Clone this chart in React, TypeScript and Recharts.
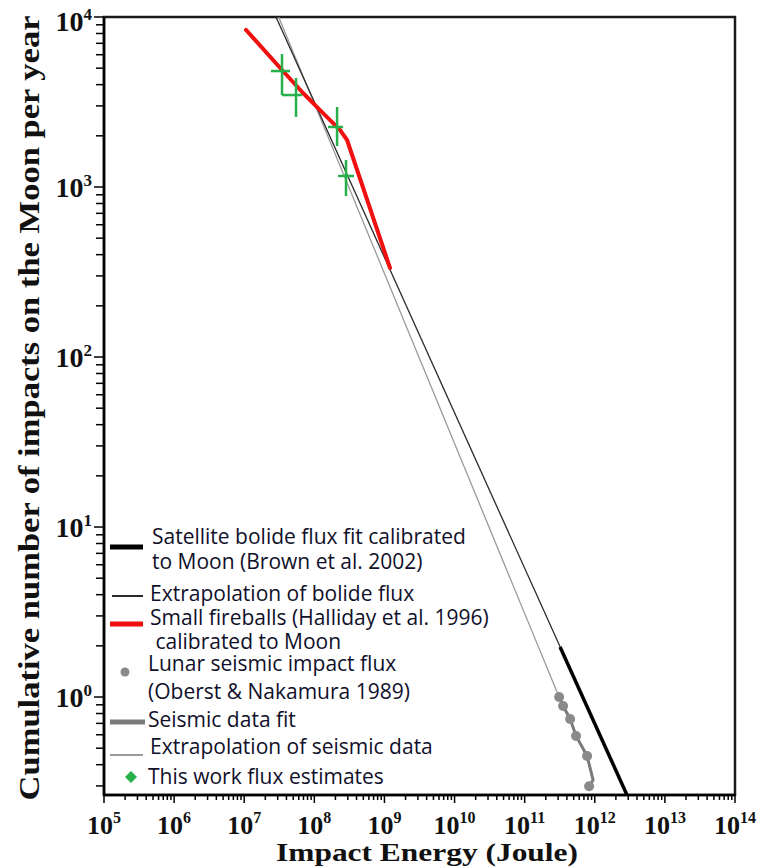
import React from "react";
import {
  ComposedChart,
  Line,
  Scatter,
  XAxis,
  YAxis,
  ErrorBar,
  ReferenceArea,
  Legend,
} from "recharts";

// axis decades (tick labels are 10^n)
const X_DECADES = [5, 6, 7, 8, 9, 10, 11, 12, 13, 14];
const Y_DECADES = [-1, 0, 1, 2, 3, 4];
const X_DOMAIN = [1e5, 1e14];
const Y_DOMAIN = [0.2653, 1e4];

// satellite bolide flux fit (thick black) and its extrapolation (thin black)
const bolideFit = [
  { x: 3.2e11, y: 1.97 },
  { x: 2.88e12, y: 0.2653 },
];
const bolideExtrap = [
  { x: 2.84e7, y: 1e4 },
  { x: 2.88e12, y: 0.2653 },
];

// small fireballs (red)
const fireballs = [
  { x: 1.06e7, y: 8390 },
  { x: 3.46e7, y: 4877 },
  { x: 6.9e7, y: 3573 },
  { x: 1.33e8, y: 2723 },
  { x: 2.33e8, y: 2163 },
  { x: 2.93e8, y: 1890 },
  { x: 1.2e9, y: 334 },
];

// lunar seismic impact flux points, fit line and extrapolation
const seismicPoints = [
  { x: 3.1e11, y: 1.0 },
  { x: 3.53e11, y: 0.885 },
  { x: 4.45e11, y: 0.743 },
  { x: 5.41e11, y: 0.59 },
  { x: 7.77e11, y: 0.45 },
  { x: 8.3e11, y: 0.299 },
];
const seismicFit = [
  { x: 3.1e11, y: 1.0 },
  { x: 3.53e11, y: 0.885 },
  { x: 4.45e11, y: 0.743 },
  { x: 5.41e11, y: 0.59 },
  { x: 7.77e11, y: 0.45 },
  { x: 9.46e11, y: 0.325 },
  { x: 8.3e11, y: 0.299 },
];
const seismicExtrap = [
  { x: 3.1e7, y: 1e4 },
  { x: 3.1e11, y: 1.0 },
];

// this work flux estimates, [lower, upper] errors
const estimates = [
  { x: 3.46e7, y: 4810, ex: [1.05e7, 1.04e7], ey: [1335, 1245] },
  { x: 5.48e7, y: 3475, ex: [2.02e7, 1.19e7], ey: [893, 901] },
  { x: 2.11e8, y: 2254, ex: [0.54e8, 0.46e8], ey: [512, 701] },
  { x: 2.83e8, y: 1161, ex: [0.65e8, 0.85e8], ey: [276, 281] },
];

const LEGEND_TEXT = [
  ["Satellite bolide flux fit calibrated", "to Moon (Brown et al. 2002)"],
  ["Extrapolation of bolide flux"],
  ["Small fireballs (Halliday et al. 1996)", " calibrated to Moon"],
  ["Lunar seismic impact flux", "(Oberst & Nakamura 1989)"],
  ["Seismic data fit"],
  ["Extrapolation of seismic data"],
  ["This work flux estimates"],
];

const C = {
  black: "#000",
  thin: "#2a2a2a",
  red: "#f01010",
  gray: "#8a8a8a",
  grayLine: "#7a7a7a",
  grayThin: "#9a9a9a",
  green: "#25b04a",
  text: "#10102a",
};

const minorTicks = (decades: number[], lo: number, hi: number) =>
  decades
    .flatMap((d) => [1, 2, 3, 4, 5, 6, 7, 8, 9].map((m) => m * Math.pow(10, d)))
    .filter((v) => v >= lo * 0.999 && v <= hi * 1.001);

const X_TICKS = minorTicks(X_DECADES, X_DOMAIN[0], X_DOMAIN[1]);
const Y_TICKS = minorTicks(Y_DECADES, Y_DOMAIN[0], Y_DOMAIN[1]);

const isMajor = (v: number) => {
  const l = Math.log10(v);
  return Math.abs(l - Math.round(l)) < 1e-6;
};

const SERIF = "'Liberation Serif', 'Times New Roman', serif";

function XTick(props: any) {
  const { x, y, payload } = props;
  const major = isMajor(payload.value);
  return (
    <g>
      <line x1={x} x2={x} y1={y} y2={y + (major ? 8 : 5)} stroke="#000" strokeWidth={1.5} />
      {major && (
        <text x={x} y={y + 39} textAnchor="middle" fontFamily={SERIF} fontWeight="bold" fontSize={26} fill="#111">
          10
          <tspan dy={-11} fontSize={16}>
            {Math.round(Math.log10(payload.value))}
          </tspan>
        </text>
      )}
    </g>
  );
}

function YTick(props: any) {
  const { x, y, payload } = props;
  const major = isMajor(payload.value);
  const top = payload.value >= Y_DOMAIN[1] * 0.999;
  return (
    <g>
      <line x1={x - (major ? 10 : 8)} x2={x} y1={y} y2={y} stroke="#000" strokeWidth={1.5} />
      {major && (
        <text x={x - 12} y={y + (top ? 14 : 10)} textAnchor="end" fontFamily={SERIF} fontWeight="bold" fontSize={28} fill="#111">
          10
          <tspan dy={-11} fontSize={17}>
            {Math.round(Math.log10(payload.value))}
          </tspan>
        </text>
      )}
    </g>
  );
}

const hiddenShape = () => <g />;

function LegendBox() {
  const swatch = [
    <line key="a" x1={10} x2={43} y1={27} y2={27} stroke={C.black} strokeWidth={5} />,
    <line key="b" x1={12} x2={43} y1={76} y2={76} stroke={C.thin} strokeWidth={2} />,
    <line key="c" x1={10} x2={43} y1={104} y2={104} stroke={C.red} strokeWidth={5} />,
    <circle key="d" cx={25} cy={152} r={4.5} fill={C.gray} />,
    <line key="e" x1={10} x2={45} y1={202} y2={202} stroke={C.grayLine} strokeWidth={5} />,
    <line key="f" x1={10} x2={43} y1={235} y2={235} stroke={C.grayThin} strokeWidth={2} />,
    <path key="g" d="M31 251 L37 257 L31 263 L25 257 Z" fill={C.green} />,
  ];
  const rows = [
    [24, 49],
    [81],
    [105, 129],
    [151, 179],
    [207],
    [234],
    [264],
  ];
  const xs = [52, 50, 50, 48, 48, 50, 48];
  return (
    <svg width={420} height={280}>
      {swatch}
      {LEGEND_TEXT.map((lines, i) =>
        lines.map((t, j) => (
          <text
            key={i + "-" + j}
            x={xs[i]}
            y={rows[i][j]}
            fontFamily="'Open Sans', sans-serif"
            fontSize={21}
            fontWeight={500}
            fill={C.text}
            style={{ whiteSpace: "pre" }}
          >
            {t}
          </text>
        ))
      )}
    </svg>
  );
}

export default function App() {
  return (
    <div style={{ position: "absolute", left: 0, top: 0, width: 759, height: 868, background: "#fff" }}>
      <ComposedChart width={759} height={868} margin={{ top: 17, right: 24, bottom: 0, left: 0 }}>
        <XAxis
          dataKey="x"
          type="number"
          scale="log"
          domain={X_DOMAIN}
          ticks={X_TICKS}
          interval={0}
          allowDataOverflow
          tick={<XTick />}
          tickSize={0}
          tickMargin={0}
          tickLine={false}
          height={73}
          axisLine={{ stroke: "#000", strokeWidth: 2.5 }}
        />
        <YAxis
          dataKey="y"
          type="number"
          scale="log"
          domain={Y_DOMAIN}
          ticks={Y_TICKS}
          interval={0}
          allowDataOverflow
          tick={<YTick />}
          tickSize={0}
          tickMargin={0}
          tickLine={false}
          width={104}
          axisLine={{ stroke: "#000", strokeWidth: 2.5 }}
        />
        <ReferenceArea
          x1={X_DOMAIN[0]}
          x2={X_DOMAIN[1]}
          y1={Y_DOMAIN[0]}
          y2={Y_DOMAIN[1]}
          fill="none"
          stroke="#1a1a1a"
          strokeWidth={2.5}
        />
        <Line data={seismicExtrap} dataKey="y" stroke={C.grayThin} strokeWidth={1.3} dot={false} isAnimationActive={false} />
        <Line data={bolideExtrap} dataKey="y" stroke={C.thin} strokeWidth={1.3} dot={false} isAnimationActive={false} />
        <Line data={bolideFit} dataKey="y" stroke={C.black} strokeWidth={3.5} dot={false} isAnimationActive={false} />
        <Line data={fireballs} dataKey="y" stroke={C.red} strokeWidth={4} strokeLinecap="round" strokeLinejoin="round" dot={false} isAnimationActive={false} />
        <Line data={seismicFit} dataKey="y" stroke={C.grayLine} strokeWidth={3} dot={false} isAnimationActive={false} />
        <Scatter data={seismicPoints} dataKey="y" fill={C.gray} isAnimationActive={false} shape={(p: any) => <circle cx={p.cx} cy={p.cy} r={5} fill={C.gray} />} />
        <Scatter data={estimates} dataKey="y" isAnimationActive={false} shape={hiddenShape}>
          <ErrorBar dataKey="ex" direction="x" width={0} stroke={C.green} strokeWidth={2.5} />
          <ErrorBar dataKey="ey" direction="y" width={0} stroke={C.green} strokeWidth={2.5} />
        </Scatter>
        <Legend
          layout="horizontal"
          align="center"
          verticalAlign="middle"
          wrapperStyle={{ left: 100, top: 520, width: 420, height: 280 }}
          content={() => <LegendBox />}
        />
        <text
          x={28}
          y={408}
          transform="rotate(-90 28 408)"
          textAnchor="middle"
          dominantBaseline="central"
          fontFamily={SERIF}
          fontWeight="bold"
          fontSize={30}
          fill="#111"
          textLength={785}
          lengthAdjust="spacingAndGlyphs"
        >
          Cumulative number of impacts on the Moon per year
        </text>
        <text
          x={427}
          y={861}
          textAnchor="middle"
          fontFamily={SERIF}
          fontWeight="bold"
          fontSize={25}
          fill="#111"
          textLength={302}
          lengthAdjust="spacingAndGlyphs"
        >
          Impact Energy (Joule)
        </text>
      </ComposedChart>
    </div>
  );
}
